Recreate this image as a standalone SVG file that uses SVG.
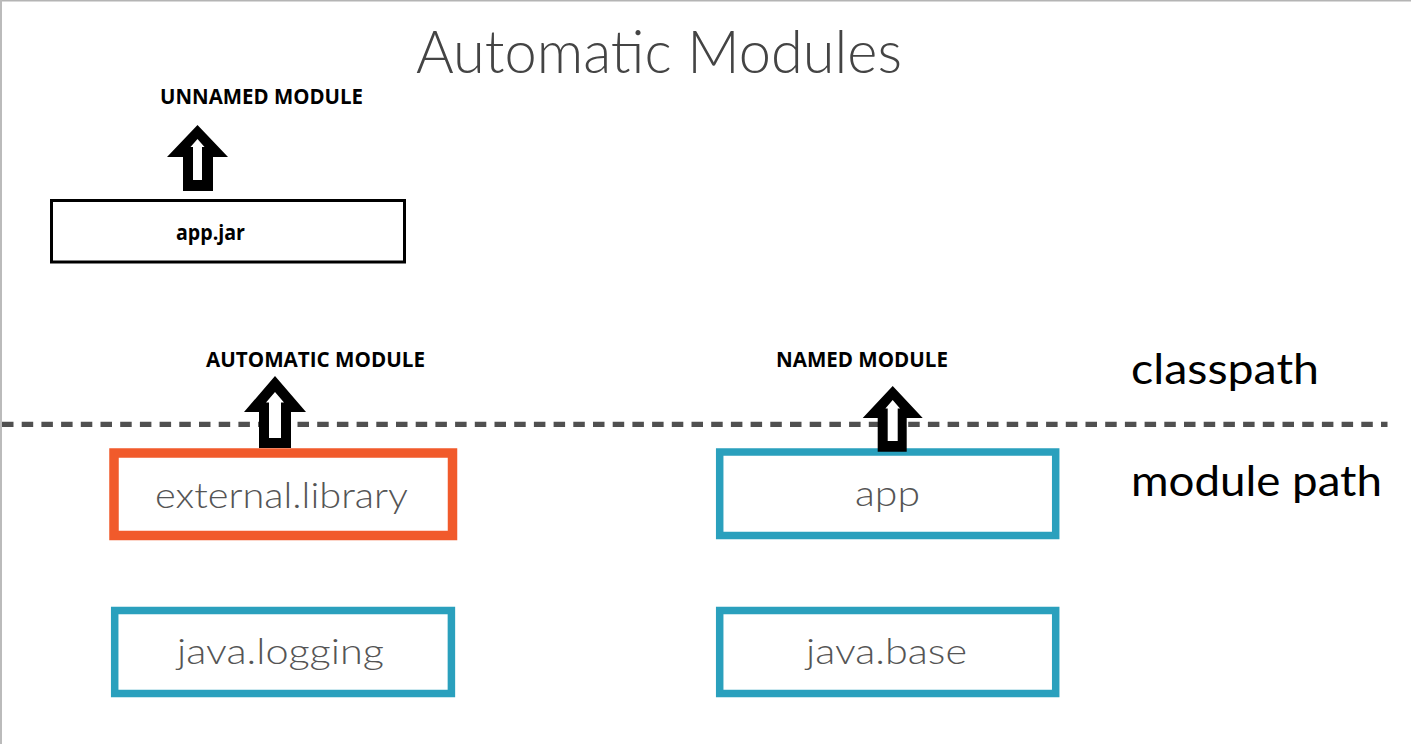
<svg xmlns="http://www.w3.org/2000/svg" width="1411" height="744" viewBox="0 0 1411 744">
  <style>
    .title { font-family: Lato, "Open Sans", sans-serif; font-weight: 300; font-size: 60px; fill: #444444; }
    .lbl { font-family: "Open Sans", "Liberation Sans", sans-serif; font-weight: 700; font-size: 21px; fill: #000000; }
    .mod { font-family: Lato, "Open Sans", sans-serif; font-weight: 300; font-size: 36px; fill: #555555; }
    .side { font-family: Lato, "Open Sans", sans-serif; font-weight: 400; font-size: 42px; fill: #000000; }
    .teal { fill: #ffffff; stroke: #2aa0bd; stroke-width: 7.5; }
    .orange { fill: #ffffff; stroke: #f15a2b; stroke-width: 9.5; }
    .jar { fill: #ffffff; stroke: #000000; stroke-width: 3; }
    .arrowOuter { fill: #000000; }
    .arrowInner { fill: #ffffff; }
  </style>
  <rect x="0" y="0" width="1411" height="744" fill="#ffffff"/>
  <!-- frame edges -->
  <line x1="0" y1="0.8" x2="1411" y2="0.8" stroke="#b4b4b4" stroke-width="1.6"/>
  <line x1="1" y1="0" x2="1" y2="744" stroke="#bbbbbb" stroke-width="2"/>

  <text class="title" x="416" y="73" textLength="486" lengthAdjust="spacingAndGlyphs">Automatic Modules</text>

  <g id="side-labels">
    <text class="side" x="1131" y="384" textLength="188" lengthAdjust="spacingAndGlyphs">classpath</text>
    <text class="side" x="1131" y="496" textLength="251" lengthAdjust="spacingAndGlyphs">module path</text>
  </g>

  <g id="connectors">
    <line x1="2" y1="424.3" x2="1387.5" y2="424.3" stroke="#505050" stroke-width="5.3" stroke-dasharray="11.5 8.2"/>
  </g>

  <g id="node-appjar">
    <rect class="jar" x="51.5" y="200.5" width="353" height="61.5"/>
    <text class="lbl" x="176" y="240" textLength="69" lengthAdjust="spacingAndGlyphs">app.jar</text>
  </g>

  <g id="node-unnamed">
    <text class="lbl" x="160" y="104" textLength="203" lengthAdjust="spacingAndGlyphs">UNNAMED MODULE</text>
  </g>

  <g id="node-automatic">
    <text class="lbl" x="206" y="367" textLength="219" lengthAdjust="spacingAndGlyphs">AUTOMATIC MODULE</text>
  </g>

  <g id="node-named">
    <text class="lbl" x="776" y="367" textLength="172" lengthAdjust="spacingAndGlyphs">NAMED MODULE</text>
  </g>

  <g id="node-external-library">
    <rect class="orange" x="114" y="453" width="338.5" height="82.5"/>
    <text class="mod" x="281.5" y="508" text-anchor="middle" textLength="253" lengthAdjust="spacingAndGlyphs">external.library</text>
  </g>

  <g id="node-app">
    <rect class="teal" x="719.7" y="452" width="336" height="83.5"/>
    <text class="mod" x="887.5" y="506" text-anchor="middle" textLength="65" lengthAdjust="spacingAndGlyphs">app</text>
  </g>

  <g id="node-java-logging">
    <rect class="teal" x="114.7" y="610.5" width="336.7" height="83"/>
    <text class="mod" x="280.5" y="664" text-anchor="middle" textLength="207" lengthAdjust="spacingAndGlyphs">java.logging</text>
  </g>

  <g id="node-java-base">
    <rect class="teal" x="719.7" y="610.5" width="336" height="83"/>
    <text class="mod" x="886.5" y="664" text-anchor="middle" textLength="161" lengthAdjust="spacingAndGlyphs">java.base</text>
  </g>

  <g id="arrows">
    <!-- app.jar -> UNNAMED MODULE -->
    <polygon class="arrowOuter" points="197.5,125 228,157 213,157 213,191 183,191 183,157 167,157"/>
    <polygon class="arrowInner" points="197.5,139 204.5,147 202,147 202,180 193,180 193,147 190.5,147"/>
    <!-- external.library -> AUTOMATIC MODULE -->
    <polygon class="arrowOuter" points="275,376 306,412 291,412 291,448 259,448 259,412 244,412"/>
    <polygon class="arrowInner" points="275,392 284,402.5 281,402.5 281,438 269,438 269,402.5 266,402.5"/>
    <!-- app -> NAMED MODULE -->
    <polygon class="arrowOuter" points="892.7,386 922.7,418 906.7,418 906.7,451.7 877.7,451.7 877.7,418 862.7,418"/>
    <polygon class="arrowInner" points="892.7,400 900,408.5 897.7,408.5 897.7,441 887.7,441 887.7,408.5 885.4,408.5"/>
  </g>
</svg>
